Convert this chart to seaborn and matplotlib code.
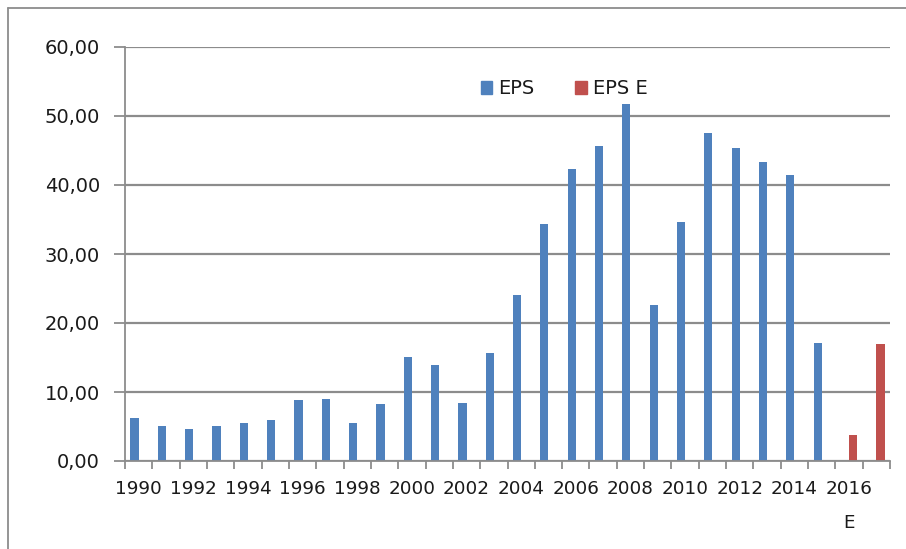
import pandas as pd
import numpy as np
import seaborn as sns
import matplotlib.pyplot as plt
from matplotlib.ticker import FuncFormatter, FixedLocator
from matplotlib.lines import Line2D

years = [str(y) for y in range(1990, 2016)] + ['2016\nE', '2017\nE']
eps = [6.2, 5.1, 4.6, 5.1, 5.5, 5.9, 8.8, 9.0, 5.5, 8.2,
       15.1, 13.9, 8.4, 15.6, 24.0, 34.4, 42.3, 45.6, 51.7, 22.6,
       34.7, 47.6, 45.4, 43.4, 41.4, 17.1]
eps_e = [3.8, 16.9]
series = ['EPS', 'EPS E']
blue = '#4f81bd'
red = '#c0504d'
grey = '#8c8c8c'

df = pd.DataFrame({
    'Year': years[:len(eps)] + years[len(eps):],
    'Value': eps + eps_e,
    'Series': ['EPS'] * len(eps) + ['EPS E'] * len(eps_e),
})

sns.set_style('white')
plt.rcParams['font.family'] = ['DejaVu Sans']
fig, ax = plt.subplots(figsize=(9.06, 5.49), dpi=100)
fig.subplots_adjust(left=125 / 906, right=890 / 906, top=1 - 47 / 549, bottom=1 - 461 / 549)

sns.barplot(data=df, x='Year', y='Value', hue='Series', order=years, hue_order=series,
            palette=[blue, red], width=0.6, gap=0, dodge=True, errorbar=None, saturation=1,
            linewidth=0, ax=ax, legend=False)

ax.set_xlim(-0.5, len(years) - 0.5)
ax.set_ylim(0, 60)
ax.set_yticks(np.arange(0, 61, 10))
ax.yaxis.set_major_formatter(FuncFormatter(lambda v, p: f'{v:.2f}'.replace('.', ',')))
ax.yaxis.grid(True, color=grey, lw=1.6)
ax.set_axisbelow(True)

ax.set_xticks(range(0, len(years), 2))
ax.set_xticklabels(years[::2], linespacing=2.1)
ax.xaxis.set_minor_locator(FixedLocator(np.arange(-0.5, len(years), 1)))
ax.tick_params(axis='x', which='major', length=0, pad=14, labelsize=13.2, colors='#1a1a1a')
ax.tick_params(axis='x', which='minor', length=6, width=1.3, color=grey, direction='out', bottom=True)
ax.tick_params(axis='y', length=8, width=1.3, color=grey, pad=10, labelsize=14,
               labelcolor='#1a1a1a', left=True)
ax.set_xlabel('')
ax.set_ylabel('')

sns.despine(ax=ax, top=True, right=True)
for s in ['left', 'bottom']:
    ax.spines[s].set_color(grey)
    ax.spines[s].set_linewidth(1.3)

handles = [plt.Rectangle((0, 0), 1, 1, color=c) for c in [blue, red]]
fig.legend(handles, series, loc='center', bbox_to_anchor=(564 / 906, 1 - 89 / 549), ncol=2,
           frameon=False, fontsize=14, handlelength=0.6, handleheight=0.6,
           handletextpad=0.3, columnspacing=2.1, labelcolor='#1a1a1a')

# outer chart border (top and left edges visible)
fig.add_artist(Line2D([8 / 906, 1], [1 - 8 / 549, 1 - 8 / 549], color=grey, lw=1.3,
                      transform=fig.transFigure))
fig.add_artist(Line2D([8 / 906, 8 / 906], [0, 1 - 8 / 549], color=grey, lw=1.3,
                      transform=fig.transFigure))

fig.savefig('out.png', dpi=100)
